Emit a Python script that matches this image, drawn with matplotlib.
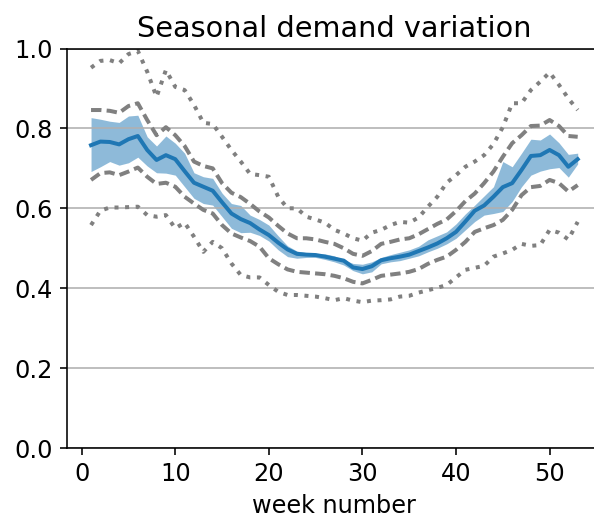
#!/usr/bin/env python3
"""Seasonal demand variation: weekly mean with spread bands."""

import matplotlib
matplotlib.use("Agg")
import matplotlib.pyplot as plt
import numpy as np

weeks = np.arange(1, 54)

mean = [0.758, 0.767, 0.766, 0.760, 0.773, 0.781, 0.746, 0.721, 0.733, 0.723,
        0.693, 0.664, 0.654, 0.644, 0.615, 0.587, 0.573, 0.563, 0.547, 0.533,
        0.514, 0.497, 0.486, 0.484, 0.483, 0.479, 0.474, 0.469, 0.452, 0.448,
        0.455, 0.470, 0.475, 0.479, 0.484, 0.493, 0.502, 0.512, 0.525, 0.541,
        0.567, 0.594, 0.607, 0.629, 0.653, 0.663, 0.696, 0.731, 0.733, 0.746,
        0.733, 0.704, 0.723]

band_upper = [0.827, 0.823, 0.818, 0.815, 0.831, 0.833, 0.779, 0.756, 0.781, 0.763,
              0.738, 0.689, 0.679, 0.675, 0.638, 0.612, 0.607, 0.583, 0.572, 0.558,
              0.531, 0.506, 0.493, 0.489, 0.487, 0.486, 0.481, 0.471, 0.462, 0.460,
              0.466, 0.477, 0.484, 0.490, 0.496, 0.505, 0.521, 0.531, 0.541, 0.561,
              0.586, 0.608, 0.631, 0.654, 0.717, 0.704, 0.738, 0.773, 0.771, 0.786,
              0.764, 0.735, 0.738]

band_lower = [0.692, 0.704, 0.717, 0.708, 0.714, 0.728, 0.706, 0.689, 0.688, 0.683,
              0.654, 0.625, 0.612, 0.608, 0.579, 0.550, 0.539, 0.540, 0.532, 0.518,
              0.496, 0.479, 0.475, 0.477, 0.477, 0.472, 0.466, 0.458, 0.444, 0.436,
              0.441, 0.461, 0.466, 0.469, 0.475, 0.481, 0.491, 0.500, 0.511, 0.525,
              0.546, 0.567, 0.583, 0.587, 0.592, 0.617, 0.654, 0.683, 0.693, 0.699,
              0.702, 0.678, 0.711]

dash_upper = [0.846, 0.846, 0.844, 0.839, 0.856, 0.863, 0.821, 0.783, 0.803, 0.783,
              0.756, 0.717, 0.706, 0.700, 0.663, 0.639, 0.628, 0.611, 0.592, 0.577,
              0.556, 0.537, 0.525, 0.525, 0.522, 0.516, 0.511, 0.500, 0.486, 0.481,
              0.493, 0.511, 0.516, 0.522, 0.525, 0.535, 0.548, 0.561, 0.572, 0.593,
              0.618, 0.637, 0.663, 0.692, 0.729, 0.763, 0.783, 0.806, 0.807, 0.821,
              0.806, 0.781, 0.779]

dash_lower = [0.671, 0.688, 0.690, 0.683, 0.692, 0.702, 0.679, 0.661, 0.664, 0.654,
              0.629, 0.612, 0.596, 0.587, 0.558, 0.537, 0.527, 0.518, 0.504, 0.475,
              0.460, 0.447, 0.441, 0.439, 0.437, 0.435, 0.431, 0.425, 0.416, 0.412,
              0.421, 0.431, 0.434, 0.437, 0.441, 0.448, 0.461, 0.471, 0.479, 0.496,
              0.516, 0.541, 0.550, 0.558, 0.571, 0.596, 0.633, 0.653, 0.656, 0.671,
              0.663, 0.642, 0.658]

dot_upper = [0.952, 0.969, 0.971, 0.963, 0.986, 0.994, 0.942, 0.879, 0.946, 0.904,
             0.896, 0.859, 0.814, 0.811, 0.779, 0.746, 0.717, 0.686, 0.683, 0.679,
             0.629, 0.600, 0.600, 0.579, 0.572, 0.564, 0.546, 0.537, 0.525, 0.519,
             0.539, 0.546, 0.558, 0.566, 0.564, 0.577, 0.604, 0.629, 0.664, 0.683,
             0.704, 0.717, 0.733, 0.761, 0.803, 0.863, 0.863, 0.896, 0.917, 0.940,
             0.909, 0.875, 0.846]

dot_lower = [0.558, 0.594, 0.602, 0.602, 0.603, 0.604, 0.583, 0.579, 0.583, 0.550,
             0.564, 0.529, 0.491, 0.516, 0.500, 0.462, 0.433, 0.427, 0.427, 0.408,
             0.391, 0.383, 0.383, 0.381, 0.379, 0.375, 0.370, 0.375, 0.369, 0.365,
             0.369, 0.370, 0.372, 0.379, 0.381, 0.389, 0.395, 0.401, 0.408, 0.427,
             0.446, 0.451, 0.456, 0.479, 0.487, 0.496, 0.511, 0.506, 0.508, 0.546,
             0.539, 0.522, 0.566]


def main() -> None:
    plt.rcParams["font.size"] = 12
    fig = plt.figure(figsize=(594 / 144, 521 / 144), dpi=144)
    ax = fig.add_axes([0.1123, 0.1401, 0.9012, 0.7668])

    ax.fill_between(weeks, band_lower, band_upper, color="C0", alpha=0.5, linewidth=0)
    ax.plot(weeks, dash_upper, color="gray", linewidth=2, linestyle=(0, (2.6, 1.3)))
    ax.plot(weeks, dash_lower, color="gray", linewidth=2, linestyle=(0, (2.6, 1.3)))
    ax.plot(weeks, dot_upper, color="gray", linewidth=2, linestyle=":")
    ax.plot(weeks, dot_lower, color="gray", linewidth=2, linestyle=":")
    ax.plot(weeks, mean, color="C0", linewidth=2)

    ax.set_ylim(0, 1)
    ax.set_yticks([0.0, 0.2, 0.4, 0.6, 0.8, 1.0])
    ax.grid(axis="y", color="#b0b0b0")
    ax.set_xlabel("week number")
    ax.set_title("Seasonal demand variation", fontsize="large")

    fig.savefig("out.png", dpi=144)
    plt.close(fig)


if __name__ == "__main__":
    main()
